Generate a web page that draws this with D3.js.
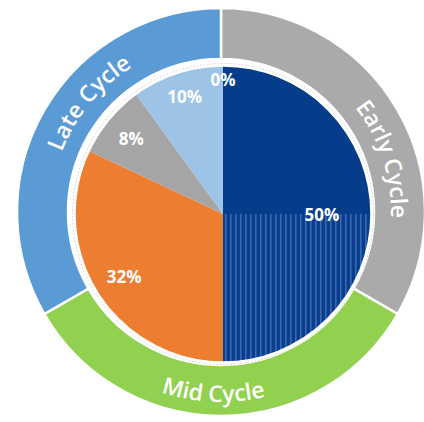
<!DOCTYPE html>
<html><head><meta charset="utf-8">
<script src="https://cdn.jsdelivr.net/npm/d3@7"></script>
<style>html,body{margin:0;padding:0;background:#fff;overflow:hidden} svg{display:block}</style>
</head><body>
<svg id="chart" width="424" height="422"></svg>
<script>
// ---- data ----
const ringNames = ["Early Cycle", "Mid Cycle", "Late Cycle"];
const ringValues = [1, 1, 1];
const ringColors = ["#AAAAAA", "#92D050", "#5B9BD5"];
const sliceValues = [50, 32, 8, 10, 0];
const sliceColors = ["#053D8B", "#ED7D31", "#A5A5A5", "#9DC3E6", "#9DC3E6"];
const sliceLabels = sliceValues.map(v => v + "%");

// ---- layout ----
const svg = d3.select("#chart");
const ringC = [221, 212], pieC = [223, 214];
const ringInner = 153, ringOuter = 204, pieR = 148;
const labelR = [99, 117, 119, 124, 135];
const ringLabelFrac = [0.6, 0.48, 0.58];

const defs = svg.append("defs");
const pat = defs.append("pattern").attr("id", "stripes")
  .attr("patternUnits", "userSpaceOnUse").attr("width", 5).attr("height", 10);
pat.append("rect").attr("width", 5).attr("height", 10).attr("fill", "#073F8E");
pat.append("rect").attr("x", 2).attr("width", 1.6).attr("height", 10).attr("fill", "#3A68B0");

// ---- outer ring ----
const ringPie = d3.pie().sort(null).value(d => d)(ringValues);
const ringArc = d3.arc().innerRadius(ringInner).outerRadius(ringOuter);
const gR = svg.append("g").attr("transform", `translate(${ringC})`);
gR.selectAll("path.seg").data(ringPie).join("path").attr("class", "seg")
  .attr("d", ringArc).attr("fill", (d, i) => ringColors[i])
  .attr("stroke", "#fff").attr("stroke-width", 2.5);

// curved labels
ringPie.forEach((d, i) => {
  const p = d3.path();
  const mid = (d.startAngle + d.endAngle) / 2;
  const bottom = mid > Math.PI / 2 && mid < 3 * Math.PI / 2;
  if (bottom) {
    p.arc(0, 0, 190, d.endAngle - Math.PI / 2, d.startAngle - Math.PI / 2, true);
  } else {
    p.arc(0, 0, 170, d.startAngle - Math.PI / 2, d.endAngle - Math.PI / 2, false);
  }
  defs.append("path").attr("id", "rp" + i).attr("d", p.toString())
    .attr("transform", `translate(${ringC})`);
  svg.append("text")
    .attr("font-family", "'Open Sans', sans-serif").attr("font-size", 23)
    .attr("font-weight", 600)
    .attr("fill", "#fff")
    .append("textPath").attr("href", "#rp" + i)
    .attr("startOffset", (ringLabelFrac[i] * 100) + "%")
    .attr("text-anchor", "middle")
    .text(ringNames[i]);
});

// ---- inner pie ----
const pieData = d3.pie().sort(null).value(d => d)(sliceValues);
const arc = d3.arc().innerRadius(0).outerRadius(pieR);
const gP = svg.append("g").attr("transform", `translate(${pieC})`);
gP.append("circle").attr("r", pieR + 2.5).attr("fill", "none")
  .attr("stroke", "#d0d0d0").attr("stroke-width", 1).attr("stroke-dasharray", "1.5,2");
gP.selectAll("path.sl").data(pieData).join("path").attr("class", "sl")
  .attr("d", arc).attr("fill", (d, i) => sliceColors[i]);
// striped lower part of the first slice
const s0 = pieData[0];
gP.append("path")
  .attr("d", arc({startAngle: Math.max(s0.startAngle, Math.PI / 2), endAngle: s0.endAngle}))
  .attr("fill", "url(#stripes)");
gP.append("circle").attr("r", pieR).attr("fill", "none").attr("stroke", "#fff").attr("stroke-width", 1.5);

gP.selectAll("text.lb").data(pieData).join("text").attr("class", "lb")
  .attr("x", (d, i) => Math.sin((d.startAngle + d.endAngle) / 2) * labelR[i])
  .attr("y", (d, i) => -Math.cos((d.startAngle + d.endAngle) / 2) * labelR[i])
  .attr("text-anchor", "middle").attr("dominant-baseline", "central")
  .attr("font-family", "'Open Sans', sans-serif").attr("font-weight", 700)
  .attr("font-size", 17).attr("fill", "#fff")
  .text((d, i) => sliceLabels[i]);
</script>
</body></html>
